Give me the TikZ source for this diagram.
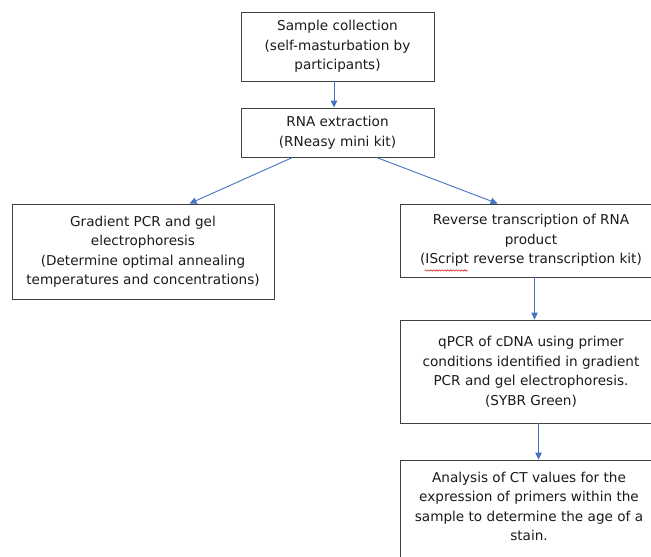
\documentclass[tikz,border=0pt]{standalone}
\usepackage{fontspec}
\setmainfont{DejaVu Sans}
\usetikzlibrary{arrows.meta,calc,decorations.pathmorphing}
\definecolor{boxgray}{HTML}{404040}
\definecolor{arrblue}{HTML}{4472C4}
\definecolor{txt}{HTML}{1A1A1A}
\definecolor{squig}{HTML}{D02020}
\begin{document}
\begin{tikzpicture}[x=1pt,y=-1pt,
  box/.style={draw=boxgray, line width=0.9pt, align=center, inner sep=0pt,
    font=\fontsize{13.6}{19.5}\selectfont, text=txt},
  plain/.style={align=center, inner sep=0pt, font=\fontsize{13.6}{19.5}\selectfont, text=txt},
  arr/.style={draw=arrblue, line width=0.9pt, -{Triangle[length=7pt,width=6.5pt]}}]
\clip (0,0) rectangle (651,557);
\useasboundingbox (0,0) rectangle (651,557);

\node[box, minimum width=193pt, minimum height=69pt] (b1) at (337.5,46.5)
  {Sample collection\\(self-masturbation by\\participants)};
\node[box, minimum width=193pt, minimum height=49pt] (b2) at (337.5,132.5)
  {RNA extraction\\(RNeasy mini kit)};
\node[box, minimum width=262pt, minimum height=95pt] (b3) at (143,251.5)
  {Gradient PCR and gel\\electrophoresis\\(Determine optimal annealing\\temperatures and concentrations)};
\node[box, minimum width=262pt, minimum height=73pt] (b4) at (531,240.5)
  {Reverse transcription of RNA\\product\\(IScript reverse transcription kit)};
\node[box, minimum width=262pt, minimum height=103pt] (b5) at (531,371.5)
  {qPCR of cDNA using primer\\conditions identified in gradient\\PCR and gel electrophoresis.\\(SYBR Green)};
\node[box, minimum width=262pt, minimum height=130pt] (b6) at (531,525) {};
\node[plain] (t6) at ($(b6.north)+(-2,47)$)
  {Analysis of CT values for the\\expression of primers within the\\sample to determine the age of a\\stain.};

\draw[squig, line width=0.6pt, decorate, decoration={snake, amplitude=0.7pt, segment length=2.8pt}]
  ($(b4.south west)+(25,-7)$) -- ($(b4.south west)+(68,-7)$);

\draw[arr] ($(b1.south)+(-3.5,0)$) -- ($(b2.north)+(-3.5,0)$);
\draw[arr] ($(b2.south west)+(52,0)$) -- ($(b3.north west)+(178,0)$);
\draw[arr] ($(b2.south west)+(136,0)$) -- ($(b4.north west)+(98,0)$);
\draw[arr] ($(b4.south west)+(135,0)$) -- ($(b5.north west)+(135,0)$);
\draw[arr] ($(b5.south west)+(139,0)$) -- ($(b6.north west)+(139,0)$);
\end{tikzpicture}
\end{document}
